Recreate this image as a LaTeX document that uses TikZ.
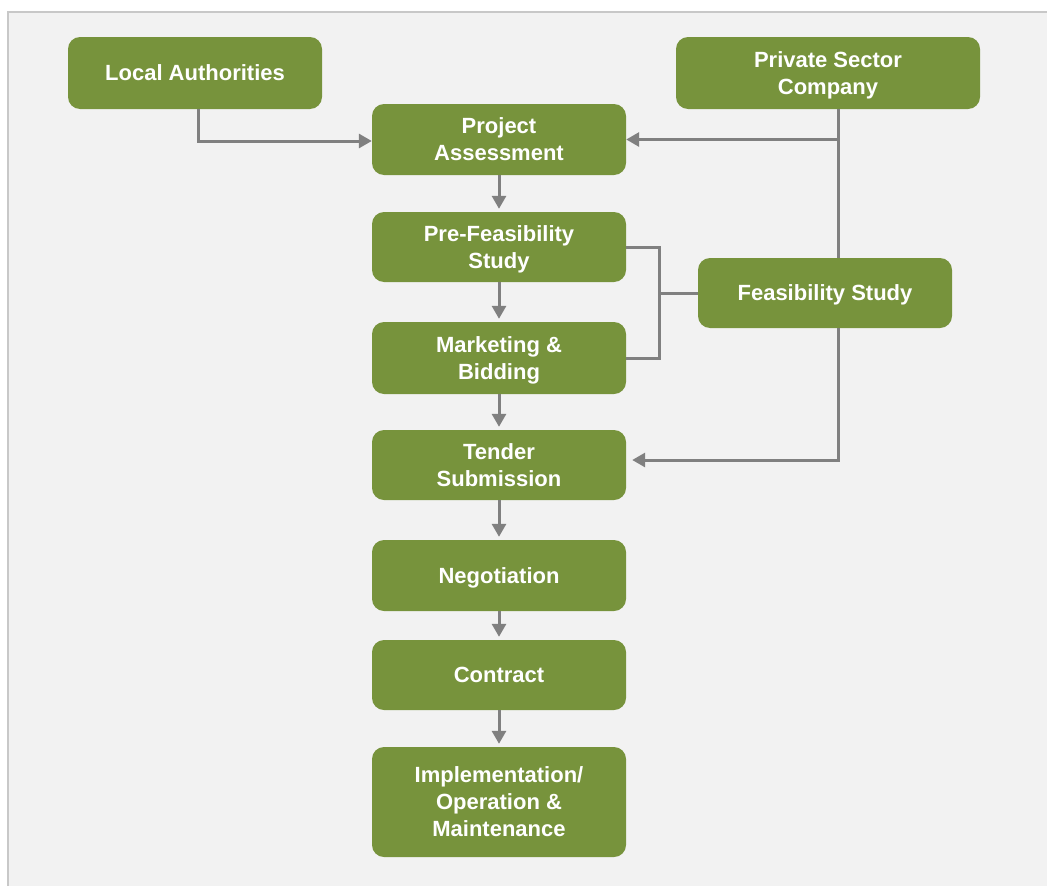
\documentclass[tikz,border=0pt]{standalone}
\usepackage{fontspec}
\setmainfont{Liberation Sans}
\usetikzlibrary{arrows.meta}
\definecolor{boxgreen}{HTML}{77933C}
\definecolor{panelbg}{HTML}{F2F2F2}
\definecolor{panelrule}{HTML}{C8C8C8}
\definecolor{linkgray}{HTML}{808080}
\begin{document}
\begin{tikzpicture}[x=1pt,y=-1pt,
  box/.style={draw=none, fill=boxgreen, rounded corners=12pt, text=white,
    font=\fontsize{22}{27}\selectfont\bfseries, align=center,
    minimum width=254pt, inner sep=0pt, text depth=0pt},
  link/.style={draw=linkgray, line width=3pt},
  arr/.style={link, -{Triangle[length=13pt,width=14pt]}}]
  % canvas and panel
  \useasboundingbox (0,0) rectangle (1047,886);
  \fill[white] (0,0) rectangle (1047,886);
  \fill[panelbg] (8,12) rectangle (1047,886);
  \draw[panelrule, line width=2pt] (8,886) -- (8,12) -- (1047,12);

  % process boxes
  \node[box, minimum height=72pt] (la) at (195,73) {Local Authorities};
  \node[box, minimum height=72pt, minimum width=304pt] (psc) at (828,73) {Private Sector\\Company};
  \node[box, minimum height=71pt] (pa) at (499,139.5) {Project\\Assessment};
  \node[box, minimum height=70pt] (pf) at (499,247) {Pre-Feasibility\\Study};
  \node[box, minimum height=72pt] (mb) at (499,358) {Marketing \&\\Bidding};
  \node[box, minimum height=70pt] (ts) at (499,465) {Tender\\Submission};
  \node[box, minimum height=71pt] (ng) at (499,575.5) {Negotiation};
  \node[box, minimum height=70pt] (ct) at (499,675) {Contract};
  \node[box, minimum height=110pt] (im) at (499,802) {Implementation/\\Operation \&\\Maintenance};
  \node[box, minimum height=70pt] (fs) at (825,293) {Feasibility Study};

  % main flow
  \draw[arr] (pa.south) -- ([yshift=3pt]pf.north);
  \draw[arr] (pf.south) -- ([yshift=3pt]mb.north);
  \draw[arr] (mb.south) -- ([yshift=3pt]ts.north);
  \draw[arr] (ts.south) -- ([yshift=3pt]ng.north);
  \draw[arr] (ng.south) -- ([yshift=3pt]ct.north);
  \draw[arr] (ct.south) -- ([yshift=3pt]im.north);

  % side inputs
  \draw[arr] ([xshift=3pt]la.south) |- ([yshift=-1.5pt]pa.west);
  \coordinate (pscdown) at ([xshift=10pt]psc.south);
  \draw[link] (pscdown) -- (pscdown |- fs.north);
  \draw[arr] (pscdown |- pa.east) -- (pa.east);
  \coordinate (fsdown) at (pscdown |- fs.south);
  \draw[arr] (fsdown) |- ([xshift=6pt,yshift=5pt]ts.east);

  % bracket joining the two study stages
  \coordinate (brk) at ([xshift=33pt]pf.east);
  \draw[link] (pf.east) -- (brk) |- (mb.east);
  \draw[link] (fs.west) -- (fs.west -| brk);
\end{tikzpicture}
\end{document}
